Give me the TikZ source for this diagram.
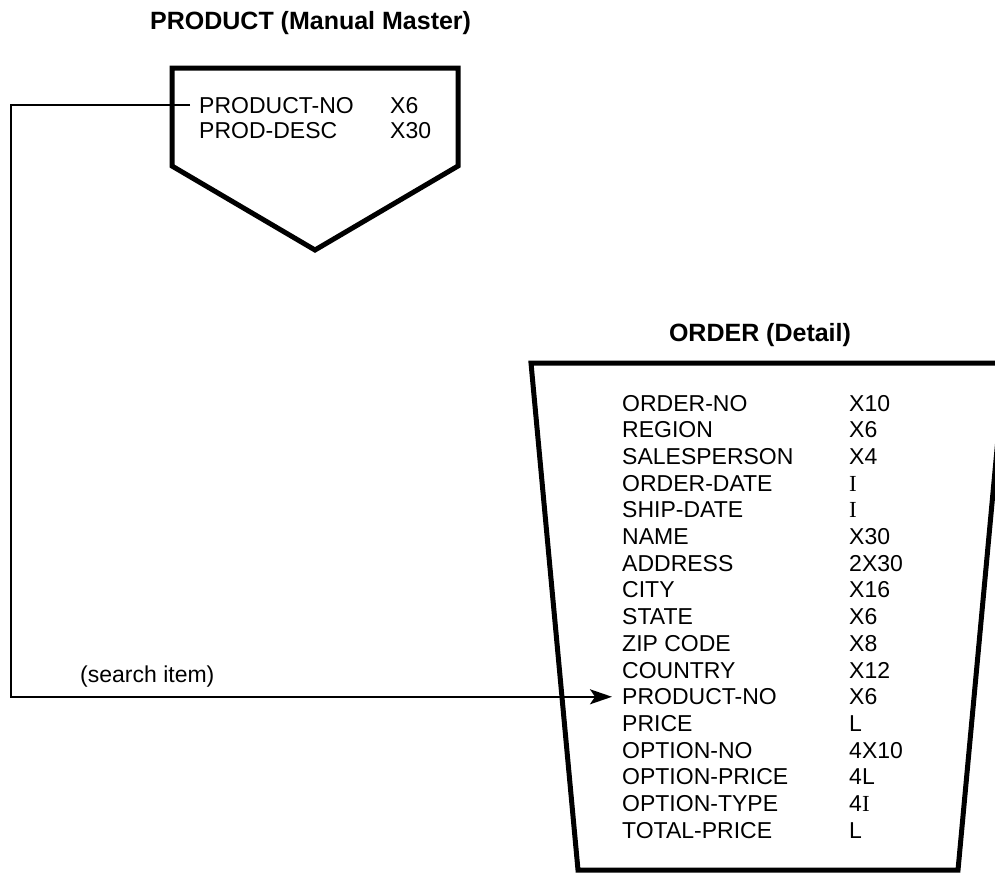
\documentclass[tikz,border=0pt]{standalone}
\usepackage{fontspec}
\setmainfont{Liberation Sans}
\newfontfamily\serifI{Liberation Serif}
\usetikzlibrary{arrows.meta}
\begin{document}
\begin{tikzpicture}[x=1pt,y=-1pt,
  field/.style={anchor=base west,inner sep=0pt,font=\fontsize{23}{23}\selectfont},
  filetitle/.style={inner sep=0pt,font=\fontsize{25}{25}\selectfont\bfseries},
  fileshape/.style={line width=5pt,line join=miter},
  link/.style={line width=1.8pt}]
\useasboundingbox (0,0) rectangle (995,873);

% PRODUCT file
\node[filetitle,anchor=base west] (ptitle) at (150,29) {PRODUCT (Manual Master)};
\draw[fileshape] (172,68) -- (458,68) -- (458,166) -- (315,250) -- (172,166) -- cycle;
\node[field] (pno) at (199,113) {PRODUCT-NO};
\node[field] (pnot) at (390,113) {X6};
\node[field] (pdesc) at (199,138) {PROD-DESC};
\node[field] (pdesct) at (390,138) {X30};

% ORDER file
\node[filetitle,anchor=base] (otitle) at (760,341) {ORDER (Detail)};
\draw[fileshape] (531,363) -- (1005,363) -- (958,870) -- (578,870) -- cycle;
\foreach \n/\t [count=\i from 0] in {ORDER-NO/X10, REGION/X6, SALESPERSON/X4,
  ORDER-DATE/{\serifI I}, SHIP-DATE/{\serifI I}, NAME/X30, ADDRESS/2X30, CITY/X16,
  STATE/X6, ZIP CODE/X8, COUNTRY/X12, PRODUCT-NO/X6, PRICE/L, OPTION-NO/4X10,
  OPTION-PRICE/4L, OPTION-TYPE/{4\serifI I}, TOTAL-PRICE/L} {
  \node[field] (o\i) at (622,411+26.7*\i) {\n};
  \node[field] (t\i) at (849,411+26.7*\i) {\t};
}

% search connector
\coordinate (corner) at (11,400);
\node[field] (search) at (80,682) {(search item)};
\draw[link,-{Stealth[length=22pt,width=15pt,inset=5pt]},shorten <=9pt,shorten >=10pt]
  (pno.west) -- (pno.west -| corner) -- (corner |- o11.west) -- (o11.west);
\end{tikzpicture}
\end{document}
